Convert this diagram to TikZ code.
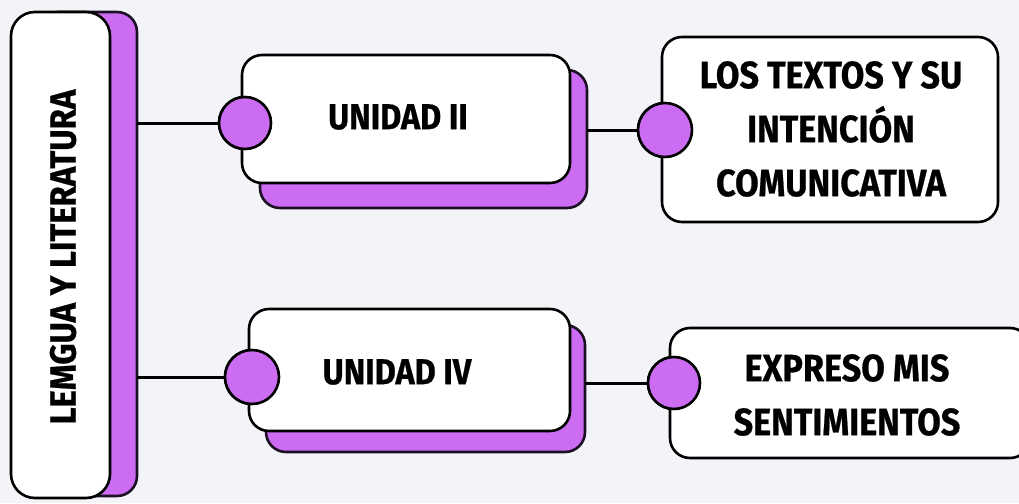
\documentclass[tikz,border=0pt]{standalone}
\usepackage{fontspec}
\newfontfamily\boxfont[FakeStretch=0.9,FakeBold=0.6]{Fira Sans}
\definecolor{bgc}{HTML}{F3F4F8}
\definecolor{purp}{HTML}{CB6CF2}
\tikzset{
  whitebox/.style={draw=black, line width=2.6pt, fill=white, rounded corners=20pt, inner sep=0pt, outer sep=0pt},
  shadowbox/.style={draw=black!85!purp, line width=2.6pt, fill=purp, rounded corners=20pt, inner sep=0pt, outer sep=0pt},
  dot/.style={circle, draw=black, line width=2.6pt, fill=purp, inner sep=0pt, outer sep=0pt},
  conn/.style={draw=black, line width=3pt},
  lbl/.style={font=\boxfont\bfseries\fontsize{38}{54}\selectfont, align=center, inner sep=0pt, text=black}
}
\begin{document}
\begin{tikzpicture}[x=1pt,y=-1pt]
\useasboundingbox (0,0) rectangle (1019,503);
\clip (0,0) rectangle (1019,503);
\fill[bgc] (0,0) rectangle (1019,503);
% shadows
\node[shadowbox, minimum width=99pt, minimum height=484pt] (lsh) at (87.5,254) {};
\node[shadowbox, minimum width=327pt, minimum height=138pt] (u2sh) at (423.5,139) {};
\node[shadowbox, minimum width=319pt, minimum height=127pt] (u4sh) at (425.5,388.5) {};
% circles (for coordinates)
\node[dot, minimum size=52pt] (c1) at (245,123) {};
\node[dot, minimum size=54pt] (c2) at (252,377) {};
\node[dot, minimum size=54pt] (c3) at (665,130) {};
\node[dot, minimum size=52pt] (c4) at (674,383) {};
% connectors
\draw[conn] (lsh.east |- c1) -- (c1.west);
\draw[conn] (lsh.east |- c2) -- (c2.west);
\draw[conn] (u2sh.east |- c3) -- (c3.west);
\draw[conn] (u4sh.east |- c4) -- (c4.west);
% white boxes
\node[whitebox, rounded corners=24pt, minimum width=99pt, minimum height=486pt] (lbox) at (60.5,255) {};
\node[whitebox, minimum width=328pt, minimum height=128pt] (u2) at (406,119) {};
\node[whitebox, minimum width=321pt, minimum height=122pt] (u4) at (409.5,370) {};
\node[whitebox, minimum width=336pt, minimum height=185pt] (r1) at (830,129.5) {};
\node[whitebox, minimum width=360pt, minimum height=130pt] (r2) at (850,393) {};
% circles on top
\node[dot, minimum size=52pt] at (c1) {};
\node[dot, minimum size=54pt] at (c2) {};
\node[dot, minimum size=54pt] at (c3) {};
\node[dot, minimum size=52pt] at (c4) {};
% texts
\node[lbl, rotate=90, font=\boxfont\bfseries\fontsize{36.5}{40}\selectfont] (ltext) at (63,257) {LEMGUA Y LITERATURA};
\node[lbl, font=\boxfont\bfseries\fontsize{36}{40}\selectfont] (t2) at (398,117) {UNIDAD II};
\node[lbl, font=\boxfont\bfseries\fontsize{36}{40}\selectfont] (t4) at (397,372) {UNIDAD IV};
\node[lbl] (t3) at (831,129) {LOS TEXTOS Y SU\\INTENCIÓN\\COMUNICATIVA};
\node[lbl] (t5) at (847,395) {EXPRESO MIS\\SENTIMIENTOS};
\end{tikzpicture}
\end{document}
